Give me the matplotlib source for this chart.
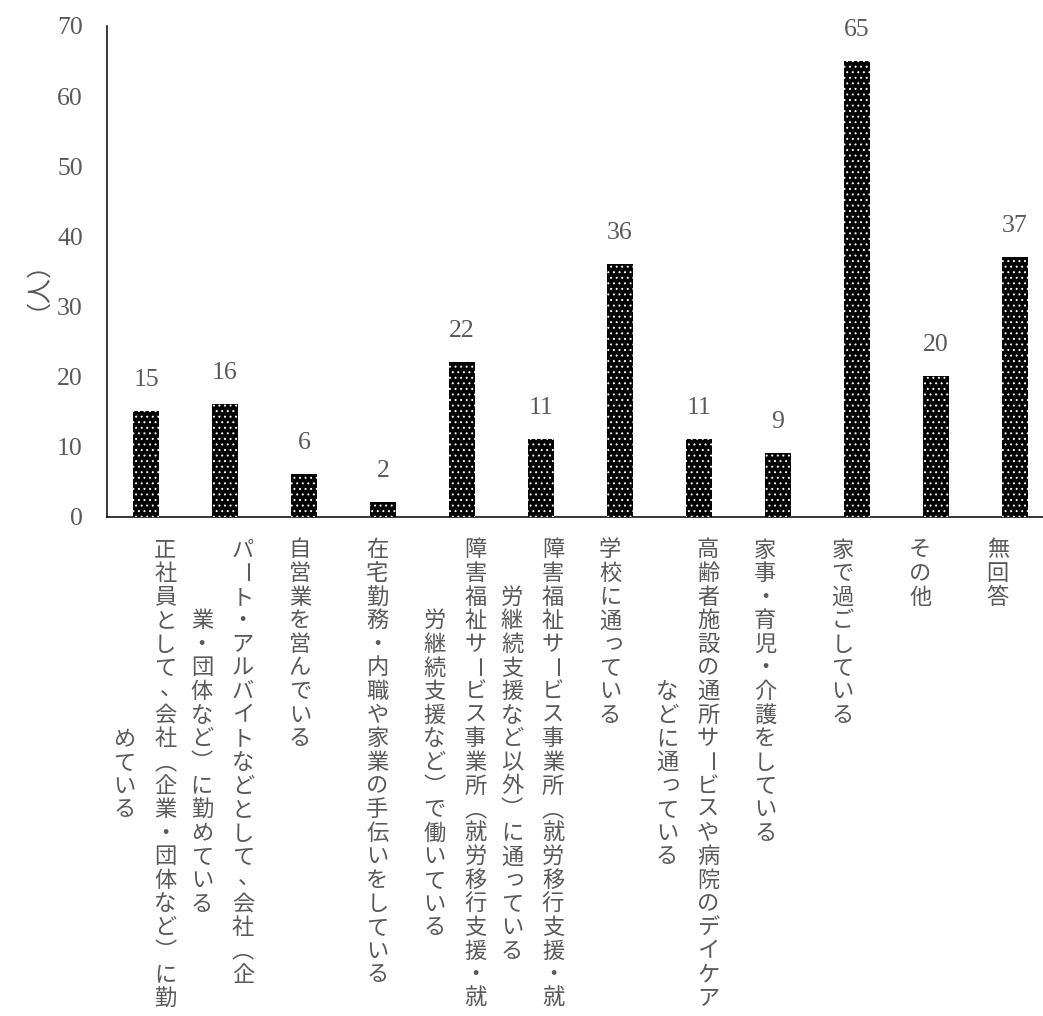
import matplotlib
matplotlib.use("Agg")
import matplotlib.pyplot as plt
import matplotlib.transforms as mtransforms

# ---- data ----
categories = [
    ["正社員として、会社（企業・団体など）に勤", "めている"],
    ["パート・アルバイトなどとして、会社（企", "業・団体など）に勤めている"],
    ["自営業を営んでいる"],
    ["在宅勤務・内職や家業の手伝いをしている"],
    ["障害福祉サービス事業所（就労移行支援・就", "労継続支援など）で働いている"],
    ["障害福祉サービス事業所（就労移行支援・就", "労継続支援など以外）に通っている"],
    ["学校に通っている"],
    ["高齢者施設の通所サービスや病院のデイケア", "などに通っている"],
    ["家事・育児・介護をしている"],
    ["家で過ごしている"],
    ["その他"],
    ["無回答"],
]
values = [15, 16, 6, 2, 22, 11, 36, 11, 9, 65, 20, 37]
yticks = [0, 10, 20, 30, 40, 50, 60, 70]
ylabel = "（人）"

# ---- style ----
GRAY = "#595959"
NUM_FONT = ["Liberation Serif", "DejaVu Serif"]
JP_FONT = ["Noto Sans CJK JP", "DejaVu Sans"]
plt.rcParams["hatch.linewidth"] = 0.7

W, H = 1043, 1016
fig = plt.figure(figsize=(W / 100, H / 100), dpi=100)
ax = fig.add_axes([106.5 / W, (H - 516.5) / H, 948 / W, 490.5 / H])

xs = list(range(len(values)))
ax.bar(xs, values, width=0.33, color="black", linewidth=0, zorder=2)
ax.bar(xs, values, width=0.33, facecolor="none", edgecolor="white",
       hatch="...", linewidth=0, zorder=3)

ax.set_xlim(-0.5, len(values) - 0.5)
ax.set_ylim(0, 70)
for s in ("top", "right"):
    ax.spines[s].set_visible(False)
for s in ("left", "bottom"):
    ax.spines[s].set_color("black")
    ax.spines[s].set_linewidth(1.1)

ax.set_xticks([])
ax.set_yticks(yticks)
ax.set_yticklabels([str(t) for t in yticks], fontfamily=NUM_FONT)
ax.tick_params(axis="y", length=0, pad=17, labelsize=18.5, labelcolor=GRAY)

fig.text(24 / W, 1 - 272 / H, ylabel, fontsize=18, color=GRAY,
         family=JP_FONT, rotation=90, rotation_mode="anchor",
         ha="center", va="center")

# value labels
for xi, v in zip(xs, values):
    ax.annotate(str(v), (xi, v), xytext=(0, 31), textcoords="offset pixels",
                ha="center", va="center", fontsize=18.5, color=GRAY,
                family=NUM_FONT)

# vertical (tategaki) category labels
LABEL_X0 = -0.015
LABEL_STEP = 0.9816
COL_GAP = 41.0
PITCH = 23.6
FIRST_OFF = 33.5
VERTICAL_FORMS = {"（": "\ufe35", "）": "\ufe36"}
ROTATE = set("ー")
SMALL = set("っゃゅょァィゥェォッャュョ")

base = mtransforms.blended_transform_factory(ax.transData, ax.transAxes)
for i, cols in enumerate(categories):
    lx = LABEL_X0 + i * LABEL_STEP
    maxlen = max(len(c) for c in cols)
    ncol = len(cols)
    for j, col in enumerate(cols):
        colx = (ncol - 1) / 2 * COL_GAP - j * COL_GAP
        start = (maxlen - len(col)) / 2 * PITCH
        for k, ch in enumerate(col):
            dx = colx
            dy = -(FIRST_OFF + start + k * PITCH)
            rot = -90 if ch in ROTATE else 0
            if ch == "、":
                dx += 6
                dy += 2
            if ch in SMALL:
                dx += 3
                dy += 3
            glyph = VERTICAL_FORMS.get(ch, ch)
            t = mtransforms.offset_copy(base, fig=fig, x=dx, y=dy, units="dots")
            ax.text(lx, 0, glyph, transform=t, ha="center", va="center",
                    rotation=rot, fontsize=16, color=GRAY, family=JP_FONT)

fig.savefig("out.png", dpi=100)
